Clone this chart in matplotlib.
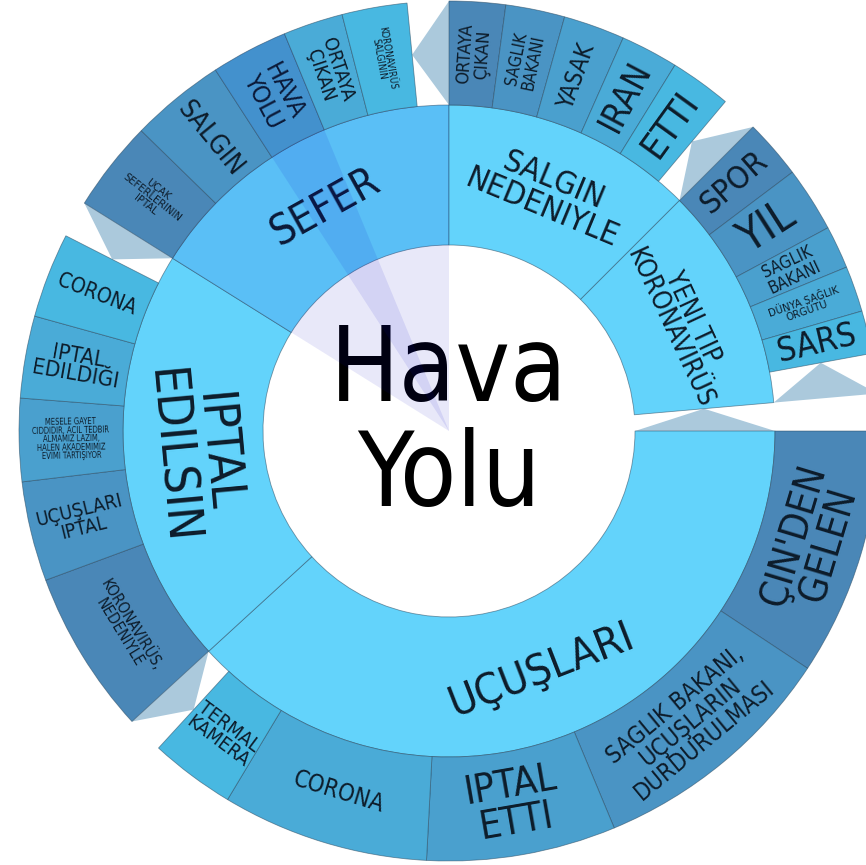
import numpy as np
import matplotlib.pyplot as plt
from matplotlib.patches import Wedge, Polygon

plt.rcParams['font.family'] = ['DejaVu Sans']
plt.rcParams['font.stretch'] = 'condensed'

# ---- data: angular share of every segment (degrees) ----
center_label = "Hava\nYolu"

root_labels = ["UÇUŞLARI", "IPTAL\nEDILSIN", "SEFER", "SALGIN\nNEDENIYLE", "YENI TIP\nKORONAVIRÜS"]
root_sizes = [137.5, 74.5, 58.0, 45.0, 40.0]

ucuslari_labels = ["ÇIN'DEN\nGELEN", "SAGLIK BAKANI,\nUÇUŞLARIN\nDURDURULMASI", "IPTAL\nETTI",
                   "CORONA", "TERMAL\nKAMERA"]
ucuslari_sizes = [33.5, 33.9, 25.6, 28.0, 11.5]

iptal_labels = ["KORONAVIRÜS,\nNEDENIYLE", "UÇUŞLARI\nIPTAL",
                "MESELE GAYET\nCIDDIDIR, ACIL TEDBIR\nALMAMIZ LAZIM,\nHALEN AKADEMIMIZ\nEVIMI TARTIŞIYOR",
                "IPTAL\nEDILDIĞI", "CORONA"]
iptal_sizes = [22.2, 13.5, 11.2, 11.1, 11.5]

sefer_labels = ["UÇAK\nSEFERLERININ\nIPTAL", "SALGIN", "HAVA\nYOLU", "ORTAYA\nÇIKAN", "KORONAVIRÜS\nSALGININ"]
sefer_sizes = [12.3, 12.8, 10.4, 8.1, 8.8]

salgin_labels = ["ORTAYA\nÇIKAN", "SAGLIK\nBAKANI", "YASAK", "IRAN", "ETTI"]
salgin_sizes = [7.6, 8.0, 8.3, 7.8, 8.3]

yeni_labels = ["SPOR", "YIL", "SAGLIK\nBAKANI", "DÜNYA SAĞLIK\nÖRGÜTÜ", "SARS"]
yeni_sizes = [8.0, 8.8, 5.8, 6.2, 5.8]

highlight_parent = "SEFER"
highlight_child = "HAVA\nYOLU"

# ---- styles ----
root_fs = [31, 36, 30, 23, 19]
ucuslari_fs = [28, 17, 28, 17, 14]
iptal_fs = [11, 14, 5.5, 16, 15]
sefer_fs = [8, 19, 18, 14, 7]
salgin_fs = [13, 12, 17, 25, 27]
yeni_fs = [23, 32, 12, 8, 24]

ucuslari_tan = [True] * 5
iptal_tan = [True, False, False, False, False]
radial_only = [False] * 5

R0, R1, R2 = 186, 326, 430
INNER_COLOR = '#63d3fb'
OUTER_SHADES = ['#4a87b7', '#4a94c4', '#4aa0ce', '#4aabd7', '#48b8e1']
GAP_COLOR = '#abc9dc'
EDGE = (0.15, 0.27, 0.36, 0.55)
TEXT = '#0d1c2a'


def polar(r, a):
    t = np.deg2rad(a)
    return r * np.cos(t), r * np.sin(t)


def tangential_rot(mid):
    m = mid % 360
    return m - 90 if m <= 180 else m - 270


def radial_rot(mid):
    m = (mid + 180) % 360 - 180
    if m > 90:
        return m - 180
    if m < -90:
        return m + 180
    return m


def draw_ring(ax, start, sizes, r_in, r_out, colors):
    # segments go clockwise from start; returns (a_start, a_end) of each
    spans = []
    a = start
    for s, c in zip(sizes, colors):
        ax.add_patch(Wedge((0, 0), r_out, a - s, a, width=r_out - r_in,
                           fc=c, ec=EDGE, lw=0.6, zorder=2))
        spans.append((a, a - s))
        a -= s
    return spans


def draw_connector(ax, last_end, group_end, r_in, r_out):
    pts = [polar(r_in, group_end), polar((r_in + r_out) / 2, last_end), polar(r_out, group_end)]
    ax.add_patch(Polygon(pts, closed=True, fc=GAP_COLOR, ec='none', zorder=1))


def draw_labels(ax, spans, labels, r_in, r_out, sizes, tangential):
    for (a0, a1), lab, fs, tan in zip(spans, labels, sizes, tangential):
        mid = (a0 + a1) / 2
        x, y = polar((r_in + r_out) / 2, mid)
        rot = tangential_rot(mid) if tan else radial_rot(mid)
        ax.text(x, y, lab, rotation=rot, rotation_mode='anchor', ha='center', va='center',
                fontsize=fs, color=TEXT, linespacing=0.95, zorder=4)


fig = plt.figure(figsize=(8.66, 8.65), dpi=100)
ax = fig.add_axes([0, 0, 1, 1])
ax.set_xlim(-449, 417)
ax.set_ylim(-434, 431)
ax.axis('off')

# inner ring (children of the centre word), laid out clockwise from 3 o'clock
root_spans = draw_ring(ax, 360, root_sizes, R0, R1, [INNER_COLOR] * len(root_sizes))
draw_connector(ax, root_spans[-1][1], 0, R0, R1)
draw_labels(ax, root_spans, root_labels, R0, R1, root_fs, [True] * len(root_labels))

children = {
    "UÇUŞLARI": (ucuslari_labels, ucuslari_sizes, ucuslari_fs, ucuslari_tan),
    "IPTAL\nEDILSIN": (iptal_labels, iptal_sizes, iptal_fs, iptal_tan),
    "SEFER": (sefer_labels, sefer_sizes, sefer_fs, radial_only),
    "SALGIN\nNEDENIYLE": (salgin_labels, salgin_sizes, salgin_fs, radial_only),
    "YENI TIP\nKORONAVIRÜS": (yeni_labels, yeni_sizes, yeni_fs, radial_only),
}

highlight_spans = []
for (a0, a1), parent in zip(root_spans, root_labels):
    labels, sizes, fs, tan = children[parent]
    spans = draw_ring(ax, a0, sizes, R1, R2, OUTER_SHADES[:len(sizes)])
    draw_connector(ax, spans[-1][1], a1, R1, R2)
    draw_labels(ax, spans, labels, R1, R2, fs, tan)
    if parent == highlight_parent:
        highlight_spans.append((a1, a0, R1))
        s = spans[labels.index(highlight_child)]
        highlight_spans.append((s[1], s[0], R2))

ax.text(0, 6, center_label, ha='center', va='center', fontsize=74,
        color='black', linespacing=1.05, zorder=4)

# translucent path highlight from the centre word outwards
for t1, t2, r in highlight_spans:
    ax.add_patch(Wedge((0, 0), r, t1, t2, fc=(0.0, 0.0, 0.78, 0.09), ec='none', zorder=6))

fig.savefig('out.png', dpi=100)
